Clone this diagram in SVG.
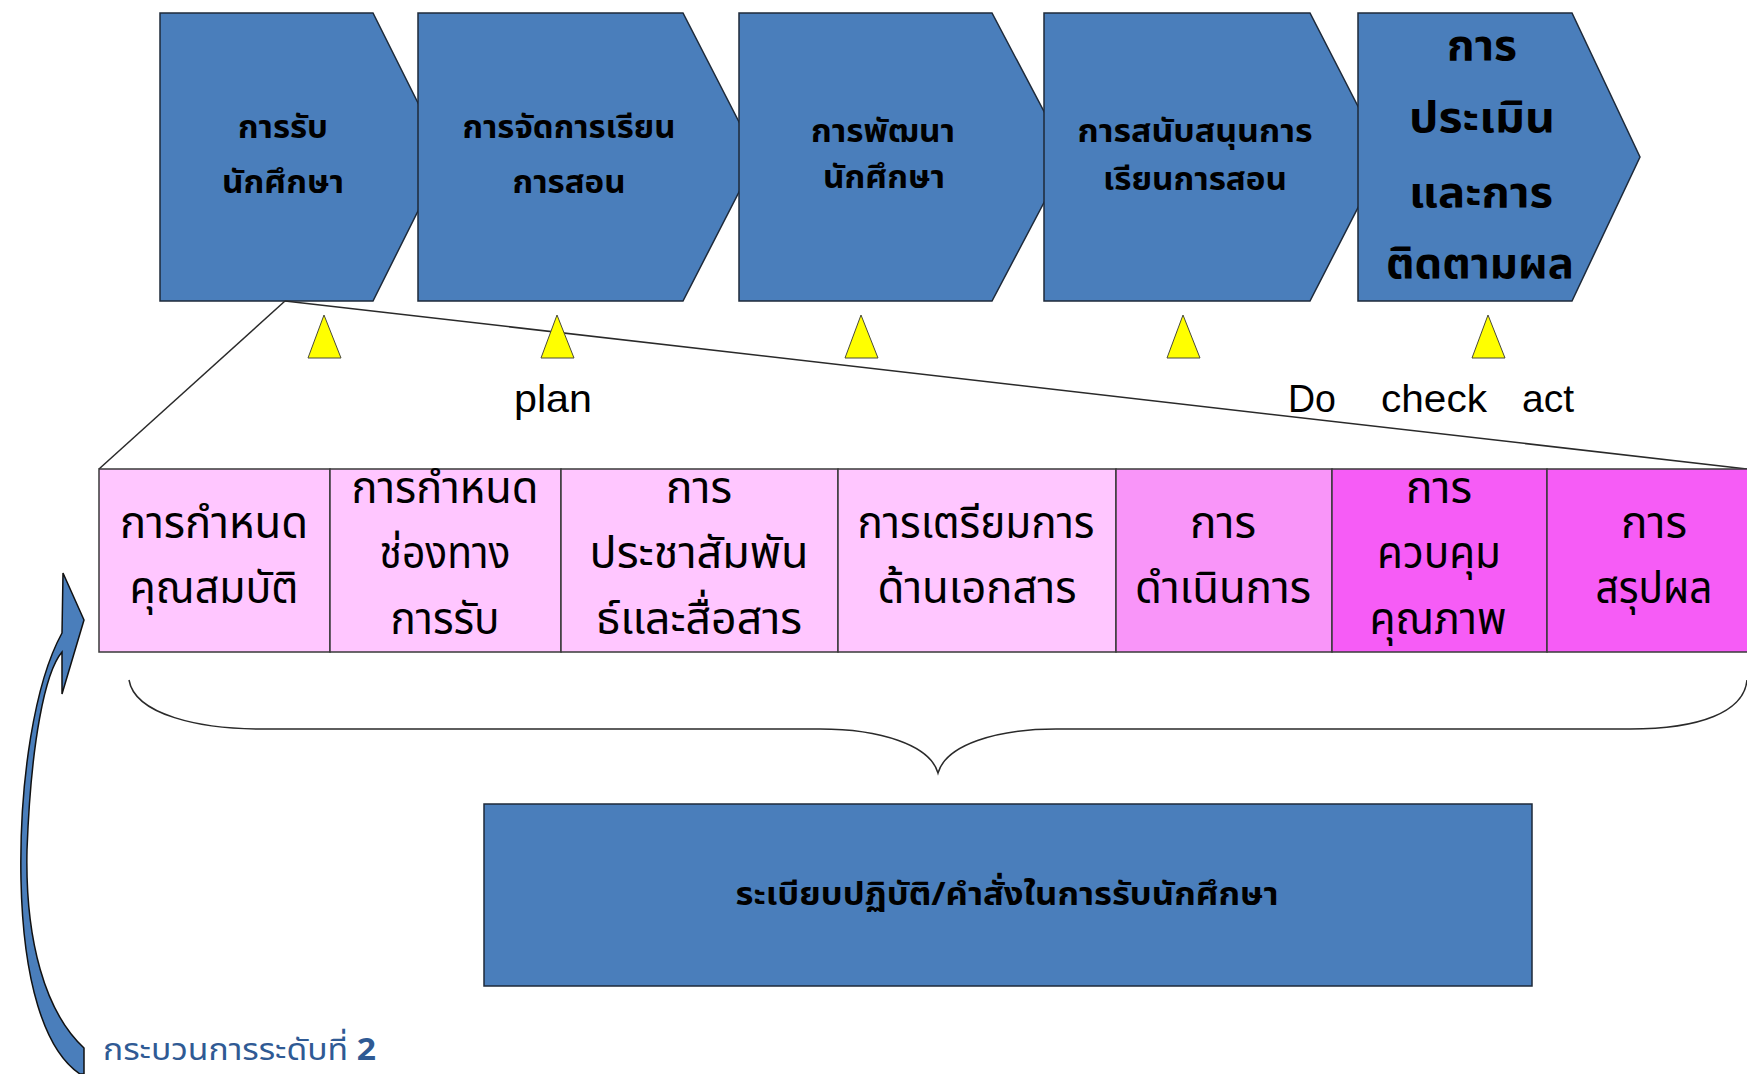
<svg xmlns="http://www.w3.org/2000/svg" width="1747" height="1074" viewBox="0 0 1747 1074">
<style>
.chev{fill:#4a7ebb;stroke:#1e2a3a;stroke-width:1.5;stroke-linejoin:miter}
.tri{fill:#ffff00;stroke:#4a4a3a;stroke-width:1}
.cell{stroke:#3a3a3a;stroke-width:1.5}
.c1{fill:#ffc6ff}.c2{fill:#f995f9}.c3{fill:#f65cf6}
.th{font-family:"Noto Sans Thai","Noto Sans Thai Looped","Tahoma","Garuda","Loma","Liberation Sans",sans-serif;text-anchor:middle;fill:#000}
.b{font-weight:bold;font-size:32px}
.b5{font-size:42px}
.r{font-size:44px}
.lat{font-family:"Liberation Sans",Arial,sans-serif;font-size:39px;fill:#000;text-anchor:middle}
.ln{fill:none;stroke:#2a2a2a;stroke-width:1.5}
</style>
<g id="chevrons">
<g id="ch1"><polygon class="chev" points="160,13 373,13 445,157 373,301 160,301"/>
<text class="th b" x="283" y="138" textLength="90" lengthAdjust="spacingAndGlyphs">การรับ</text>
<text class="th b" x="283" y="193" textLength="122" lengthAdjust="spacingAndGlyphs">นักศึกษา</text></g>
<g id="ch2"><polygon class="chev" points="418,13 683,13 757,157 683,301 418,301"/>
<text class="th b" x="569" y="138" textLength="213" lengthAdjust="spacingAndGlyphs">การจัดการเรียน</text>
<text class="th b" x="569" y="193" textLength="113" lengthAdjust="spacingAndGlyphs">การสอน</text></g>
<g id="ch3"><polygon class="chev" points="739,13 992,13 1068,157 992,301 739,301"/>
<text class="th b" x="883" y="142" textLength="144" lengthAdjust="spacingAndGlyphs">การพัฒนา</text>
<text class="th b" x="884" y="188" textLength="122" lengthAdjust="spacingAndGlyphs">นักศึกษา</text></g>
<g id="ch4"><polygon class="chev" points="1044,13 1310,13 1384,157 1310,301 1044,301"/>
<text class="th b" x="1195" y="142" textLength="235" lengthAdjust="spacingAndGlyphs">การสนับสนุนการ</text>
<text class="th b" x="1195" y="190" textLength="184" lengthAdjust="spacingAndGlyphs">เรียนการสอน</text></g>
<g id="ch5"><polygon class="chev" points="1358,13 1572,13 1640,157 1572,301 1358,301"/>
<text class="th b b5" x="1482" y="60" textLength="70" lengthAdjust="spacingAndGlyphs">การ</text>
<text class="th b b5" x="1482" y="132" textLength="146" lengthAdjust="spacingAndGlyphs">ประเมิน</text>
<text class="th b b5" x="1481" y="207" textLength="144" lengthAdjust="spacingAndGlyphs">และการ</text>
<text class="th b b5" x="1480" y="278" textLength="188" lengthAdjust="spacingAndGlyphs">ติดตามผล</text></g>
</g>
<g id="connectors">
<path class="ln" d="M285,301 L99,469"/>
<path class="ln" d="M285,301 L1747,469"/>
<path class="ln" d="M129,680 C135,715 200,729 262,729 L820,729 C880,729 930,745 938,773 C946,745 996,729 1056,729 L1630,729 C1700,729 1744,712 1747,680"/>
<path id="loop-arrow" d="M63,573 L84,620 L62,694 L62,652 C45,672 31,742 27,850 C25,940 45,1012 84,1048 L84,1074 L80,1074 C44,1050 23,980 21,880 C19,780 35,682 62,633 Z" fill="#4a7ebb" stroke="#111" stroke-width="1.5" stroke-linejoin="miter"/>
</g>
<g id="markers">
<polygon class="tri" points="324,315 308,358 341,358"/>
<polygon class="tri" points="557,315 541,358 574,358"/>
<polygon class="tri" points="861,315 845,358 878,358"/>
<polygon class="tri" points="1183,315 1167,358 1200,358"/>
<polygon class="tri" points="1488,315 1472,358 1505,358"/>
</g>
<g id="pdca">
<text class="lat" x="553" y="412" textLength="78" lengthAdjust="spacingAndGlyphs">plan</text>
<text class="lat" x="1312" y="412" textLength="48" lengthAdjust="spacingAndGlyphs">Do</text>
<text class="lat" x="1434" y="412" textLength="106" lengthAdjust="spacingAndGlyphs">check</text>
<text class="lat" x="1548" y="412" textLength="52" lengthAdjust="spacingAndGlyphs">act</text>
</g>
<g id="steps">
<g id="s1"><rect class="cell c1" x="99" y="469" width="231" height="183"/>
<text class="th r" x="214" y="538" textLength="188" lengthAdjust="spacingAndGlyphs">การกำหนด</text>
<text class="th r" x="214" y="603" textLength="169" lengthAdjust="spacingAndGlyphs">คุณสมบัติ</text></g>
<g id="s2"><rect class="cell c1" x="330" y="469" width="231" height="183"/>
<text class="th r" x="445" y="503" textLength="187" lengthAdjust="spacingAndGlyphs">การกำหนด</text>
<text class="th r" x="445" y="568" textLength="131" lengthAdjust="spacingAndGlyphs">ช่องทาง</text>
<text class="th r" x="445" y="634" textLength="109" lengthAdjust="spacingAndGlyphs">การรับ</text></g>
<g id="s3"><rect class="cell c1" x="561" y="469" width="277" height="183"/>
<text class="th r" x="699" y="503" textLength="66" lengthAdjust="spacingAndGlyphs">การ</text>
<text class="th r" x="699" y="568" textLength="219" lengthAdjust="spacingAndGlyphs">ประชาสัมพัน</text>
<text class="th r" x="699" y="634" textLength="206" lengthAdjust="spacingAndGlyphs">ธ์และสื่อสาร</text></g>
<g id="s4"><rect class="cell c1" x="838" y="469" width="278" height="183"/>
<text class="th r" x="976" y="538" textLength="237" lengthAdjust="spacingAndGlyphs">การเตรียมการ</text>
<text class="th r" x="977" y="603" textLength="199" lengthAdjust="spacingAndGlyphs">ด้านเอกสาร</text></g>
<g id="s5"><rect class="cell c2" x="1116" y="469" width="216" height="183"/>
<text class="th r" x="1223" y="538" textLength="66" lengthAdjust="spacingAndGlyphs">การ</text>
<text class="th r" x="1223" y="603" textLength="176" lengthAdjust="spacingAndGlyphs">ดำเนินการ</text></g>
<g id="s6"><rect class="cell c3" x="1332" y="469" width="215" height="183"/>
<text class="th r" x="1439" y="503" textLength="66" lengthAdjust="spacingAndGlyphs">การ</text>
<text class="th r" x="1439" y="568" textLength="124" lengthAdjust="spacingAndGlyphs">ควบคุม</text>
<text class="th r" x="1438" y="634" textLength="137" lengthAdjust="spacingAndGlyphs">คุณภาพ</text></g>
<g id="s7"><rect class="cell c3" x="1547" y="469" width="210" height="183"/>
<text class="th r" x="1654" y="538" textLength="66" lengthAdjust="spacingAndGlyphs">การ</text>
<text class="th r" x="1654" y="603" textLength="117" lengthAdjust="spacingAndGlyphs">สรุปผล</text></g>
</g>
<g id="rules">
<rect class="chev" x="484" y="804" width="1048" height="182"/>
<text class="th b" x="1007" y="905" textLength="543" lengthAdjust="spacingAndGlyphs">ระเบียบปฏิบัติ/คำสั่งในการรับนักศึกษา</text>
</g>
<g id="level-label">
<text x="103" y="1060" textLength="273" lengthAdjust="spacingAndGlyphs" style="font-family:'Noto Sans Thai','Tahoma','Liberation Sans',sans-serif;font-size:31px;fill:#2f5a94">กระบวนการระดับที่ <tspan style="font-weight:bold">2</tspan></text>
</g>
</svg>
